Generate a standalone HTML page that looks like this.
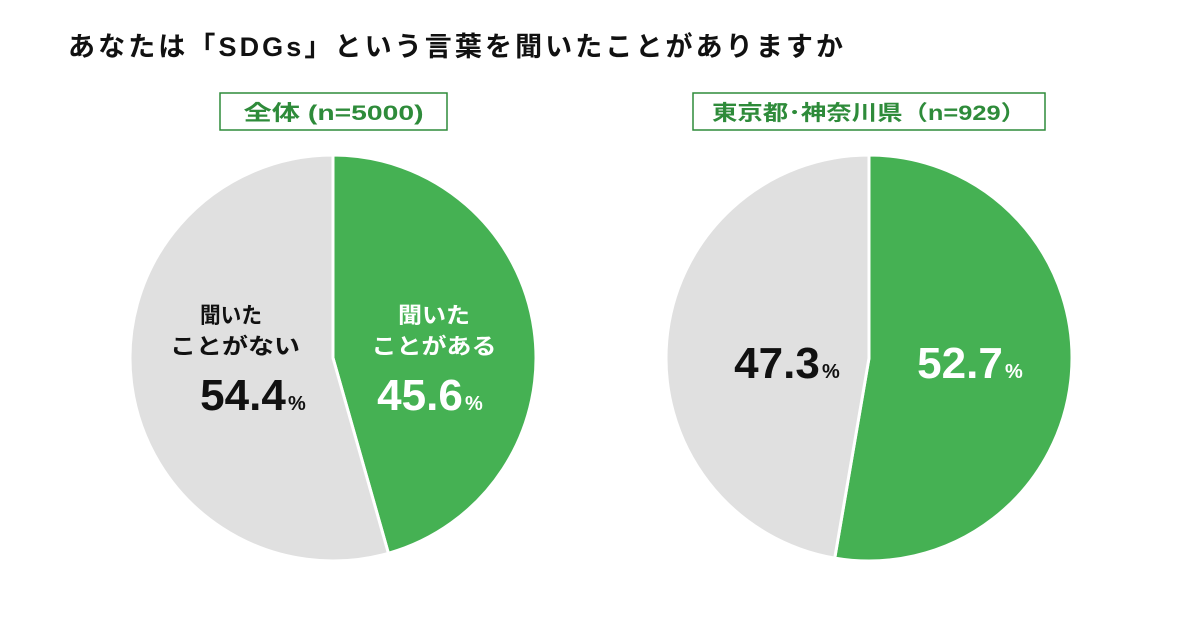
<!DOCTYPE html>
<html><head><meta charset="utf-8"><style>
body{margin:0;background:#fff;width:1200px;height:630px;overflow:hidden;font-family:"Liberation Sans","Noto Sans CJK JP",sans-serif;}
</style></head><body>
<svg id="chart" width="1200" height="630" style="position:absolute;left:0;top:0">
<text x="68" y="56" font-size="27" font-weight="bold" fill="#111" textLength="775" lengthAdjust="spacing" font-family="Liberation Sans, Noto Sans CJK JP, sans-serif">あなたは「SDGs」という言葉を聞いたことがありますか</text>
<g id="pies"></g>
</svg>
<script>
const groups = ["全体 (n=5000)", "東京都･神奈川県（n=929）"];
const heardValues = [45.6, 52.7];
const notHeardValues = [54.4, 47.3];
const svgNS = "http://www.w3.org/2000/svg";
const root = document.getElementById('pies');
const centers = [333, 869];
const cy = 358, R = 203;
const green = "#45b153", gray = "#e0e0e0";
function pt(cx, frac, r){const a = frac*2*Math.PI; return [cx + r*Math.sin(a), cy - r*Math.cos(a)];}
function mk(tag, attrs){const e=document.createElementNS(svgNS,tag);for(const k in attrs)e.setAttribute(k,attrs[k]);return e;}
function slice(cx, f0, f1, color){
  const p0=pt(cx,f0,R), p1=pt(cx,f1,R); const large=(f1-f0)>0.5?1:0;
  return mk('path',{d:`M${cx},${cy} L${p0[0]},${p0[1]} A${R},${R} 0 ${large} 1 ${p1[0]},${p1[1]} Z`,fill:color,stroke:"#fff","stroke-width":3});
}
function txt(x,y,s,size,color,anchor,len){const a={x:x,y:y,'font-size':size,'font-weight':'bold',fill:color,'text-anchor':anchor||'middle','font-family':'Liberation Sans, Noto Sans CJK JP, sans-serif'};if(len){a.textLength=len;a.lengthAdjust='spacingAndGlyphs';}const t=mk('text',a);t.textContent=s;return t;}
groups.forEach((g,i)=>{
  const cx=centers[i];
  const total=heardValues[i]+notHeardValues[i];
  const fh=heardValues[i]/total;
  const s1=slice(cx,0,fh,green);
  
  
  root.appendChild(s1);
  const s2=slice(cx,fh,1,gray);
  
  
  root.appendChild(s2);
  const w = i===0?227:352, bx = i===0?220:693;
  const box=mk('rect',{x:bx,y:93,width:w,height:37,fill:'#fff',stroke:'#2e8b3a','stroke-width':1.5});
  
  
  root.appendChild(box);
  const lt=txt(bx+w/2,120,g,21,'#2e8b3a','middle',i===0?180:314);
  
  
  root.appendChild(lt);
  if(i===0){
    const a=txt(231,323,'聞いた',22,'#111','middle',62);root.appendChild(a);
    const b=txt(235,354,'ことがない',22,'#111','middle',130);root.appendChild(b);
    const c=txt(434,323,'聞いた',22,'#fff','middle',72);root.appendChild(c);
    const d=txt(434,354,'ことがある',22,'#fff','middle',125);root.appendChild(d);
  }
  const vy = i===0?410:378;
  const nx = i===0?243:777, hx = i===0?420:960;
  const vn=txt(nx,vy,notHeardValues[i].toFixed(1),44,'#111');
  
  
  root.appendChild(vn);
  const pn=txt(nx+45,vy,'%',20,'#111','start');
  
  
  root.appendChild(pn);
  const vh=txt(hx,vy,heardValues[i].toFixed(1),44,'#fff');
  
  
  root.appendChild(vh);
  const ph=txt(hx+45,vy,'%',20,'#fff','start');
  
  
  root.appendChild(ph);
});
</script>
</body></html>
